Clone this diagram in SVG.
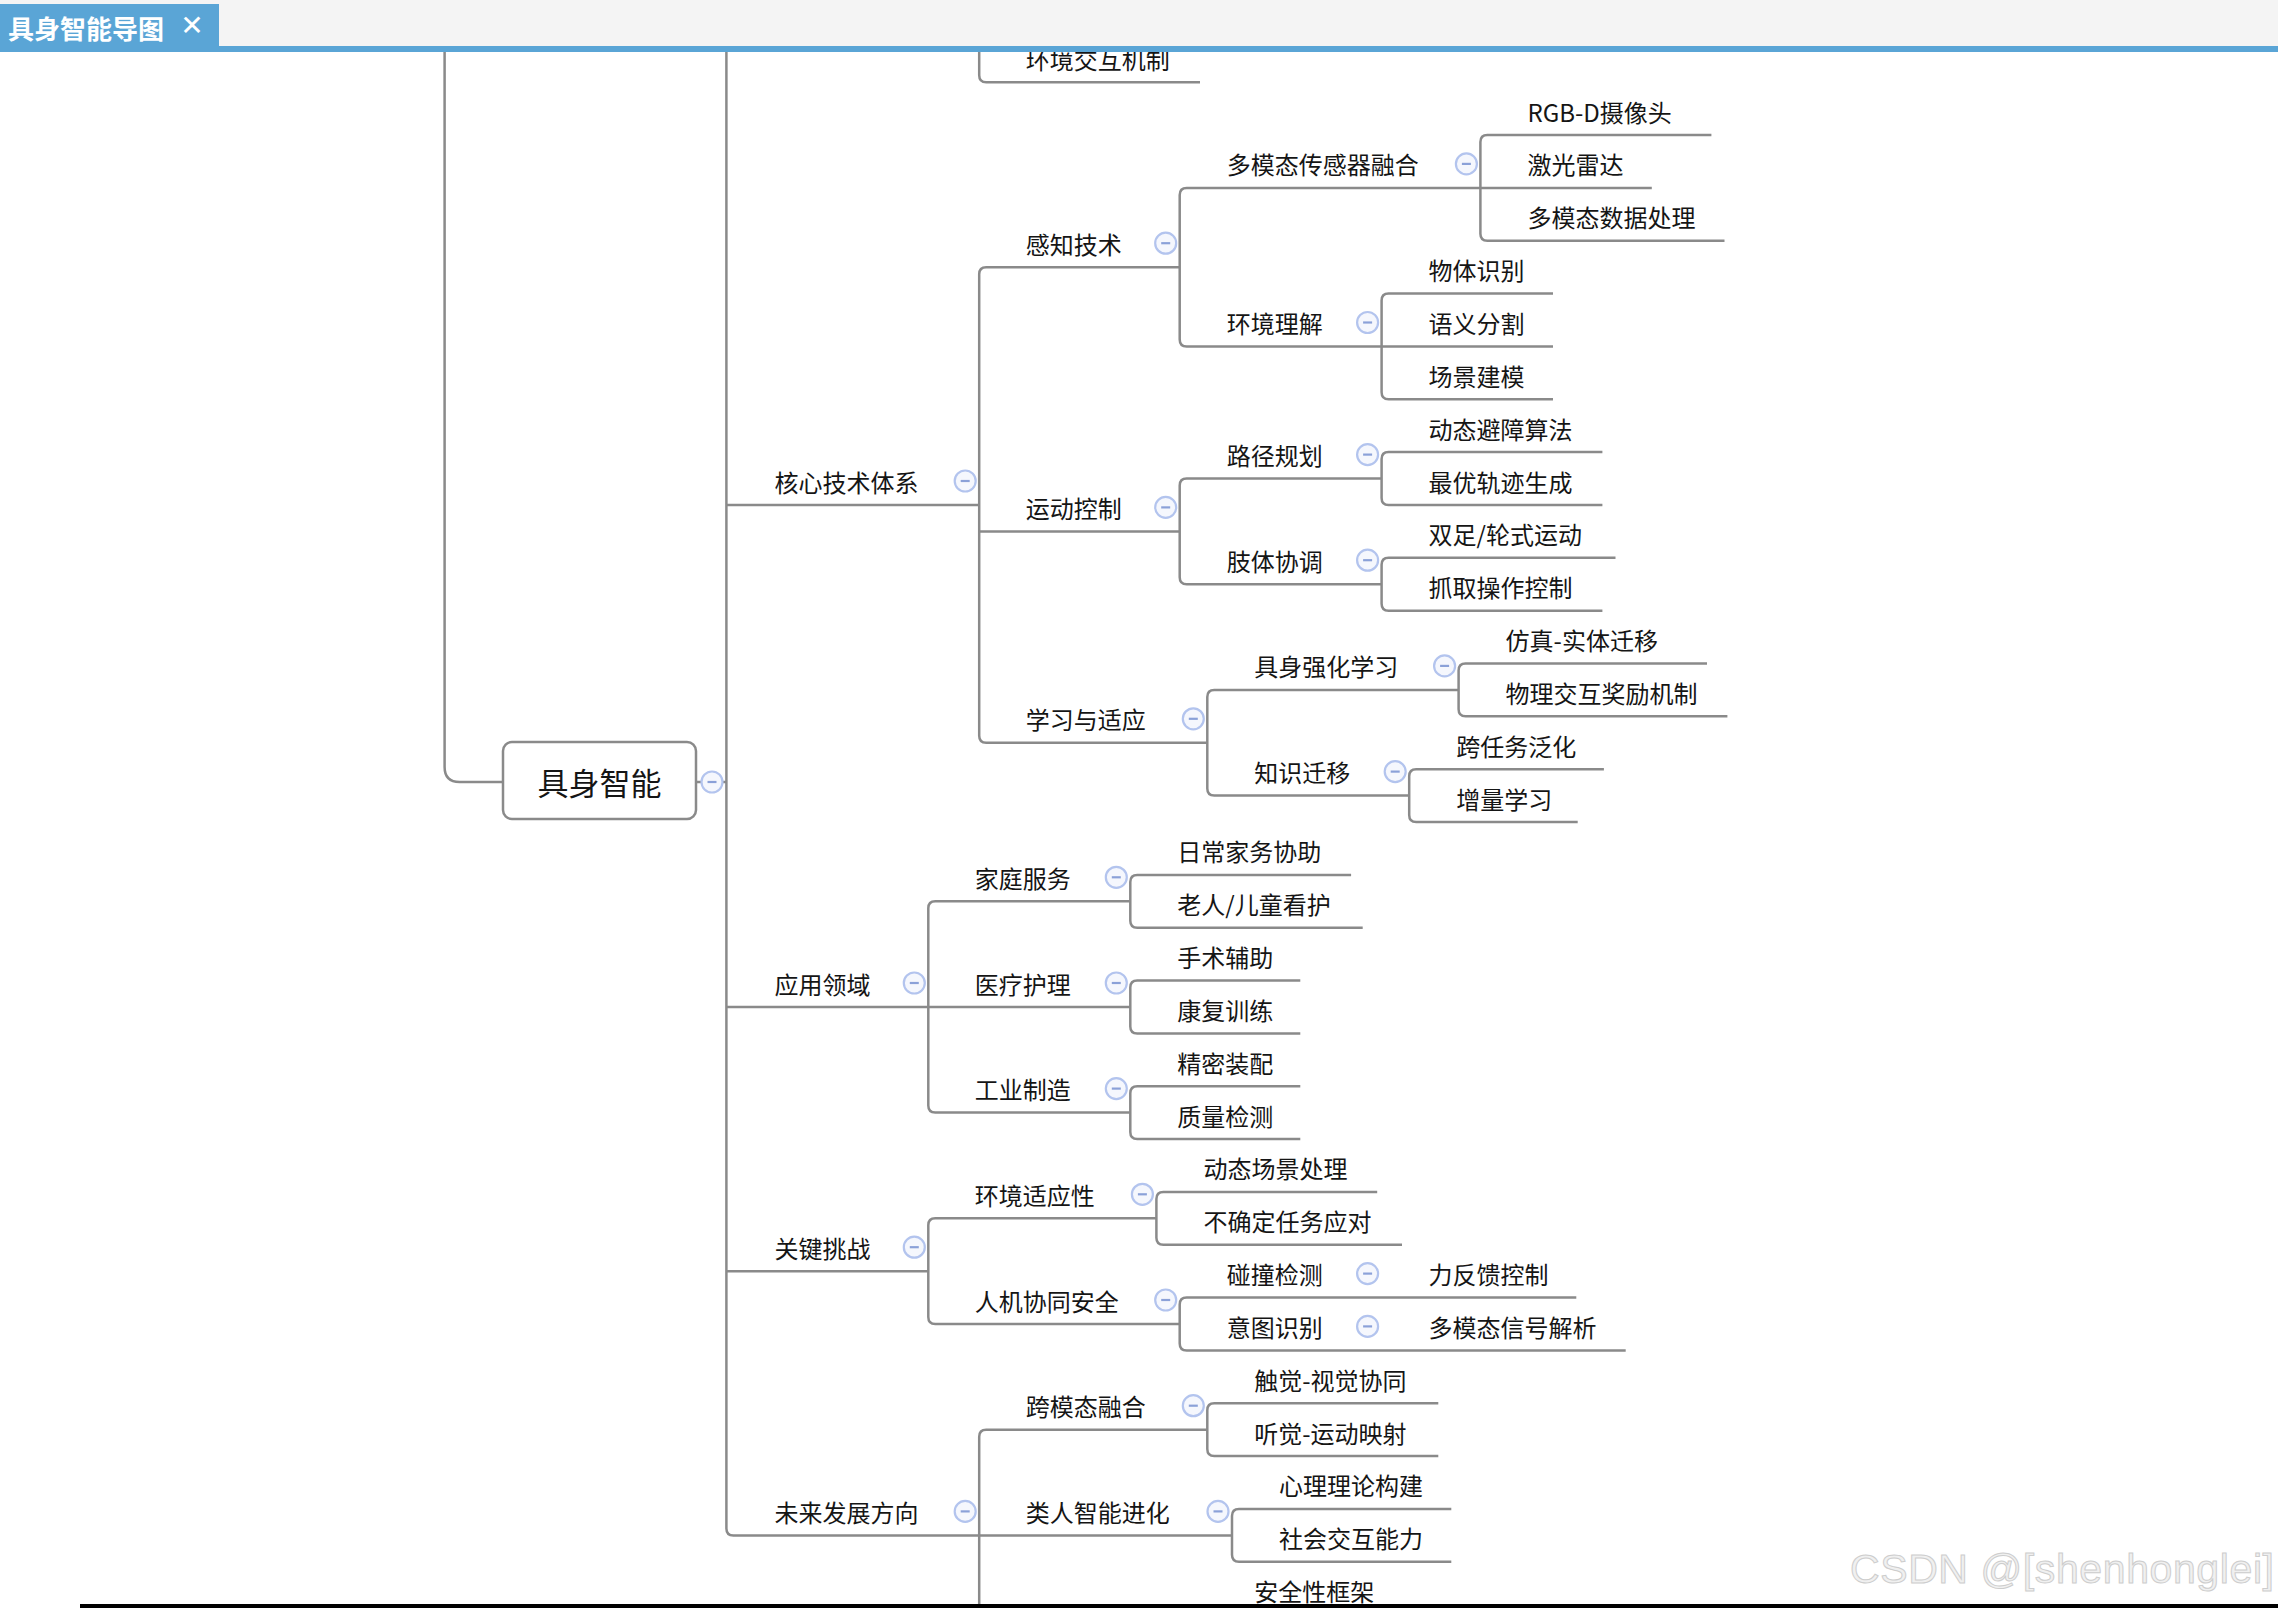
<svg xmlns="http://www.w3.org/2000/svg" width="2278" height="1608" viewBox="0 0 2278 1608">
<defs>
<style>
.t{font-family:"Noto Sans CJK SC","Noto Sans",sans-serif;font-size:24px;fill:#151515;dominant-baseline:central}
.root{font-size:31px;text-anchor:middle}
.ln{fill:none;stroke:#8a8a8a;stroke-width:2.5}
.bt circle{fill:#f5f7fd;stroke:#b3c4ee;stroke-width:2.2}
.bt line{stroke:#8ba1d8;stroke-width:2.2}
</style>
<g id="btn" class="bt"><circle cx="0" cy="0" r="10.5"/><line x1="-4.5" y1="0" x2="4.5" y2="0"/></g>
</defs>
<rect width="2278" height="1608" fill="#ffffff"/>
<g id="connectors" class="ln">
<path d="M503 782 H459.6 Q444.6 782 444.6 767 V52"/>
<path d="M696 782 H726.4"/>
<path d="M726.4 52 V1528.4 Q726.4 1535.4 733.4 1535.4 H979.2"/>
<path d="M726.4 505 H979.2"/>
<path d="M726.4 1007 H928.3"/>
<path d="M726.4 1271.2 H928.3"/>
<path d="M979.2 52 V75.3 Q979.2 82.3 986.2 82.3 H1200"/>
<path d="M1179.7 267.2 H986.2 Q979.2 267.2 979.2 274.2 V735.8 Q979.2 742.8 986.2 742.8 H1207.3"/>
<path d="M979.2 531.4 H1179.7"/>
<path d="M1480.4 187.9 H1186.7 Q1179.7 187.9 1179.7 194.9 V339.5 Q1179.7 346.5 1186.7 346.5 H1381.6"/>
<path d="M1711.4 135.1 H1487.4 Q1480.4 135.1 1480.4 142.1 V233.8 Q1480.4 240.8 1487.4 240.8 H1724.5"/>
<path d="M1480.4 187.9 H1651.8"/>
<path d="M1553 293.6 H1388.6 Q1381.6 293.6 1381.6 300.6 V392.3 Q1381.6 399.3 1388.6 399.3 H1553"/>
<path d="M1381.6 346.5 H1553"/>
<path d="M1381.6 478.6 H1186.7 Q1179.7 478.6 1179.7 485.6 V577.2 Q1179.7 584.2 1186.7 584.2 H1381.6"/>
<path d="M1602.4 452.1 H1388.6 Q1381.6 452.1 1381.6 459.1 V498 Q1381.6 505 1388.6 505 H1602.4"/>
<path d="M1615.5 557.8 H1388.6 Q1381.6 557.8 1381.6 564.8 V603.7 Q1381.6 610.7 1388.6 610.7 H1602.4"/>
<path d="M1458.6 689.9 H1214.3 Q1207.3 689.9 1207.3 696.9 V788.6 Q1207.3 795.6 1214.3 795.6 H1409.2"/>
<path d="M1707 663.5 H1465.6 Q1458.6 663.5 1458.6 670.5 V709.3 Q1458.6 716.3 1465.6 716.3 H1727.4"/>
<path d="M1603.9 769.2 H1416.2 Q1409.2 769.2 1409.2 776.2 V815 Q1409.2 822 1416.2 822 H1577.7"/>
<path d="M1130.3 901.3 H935.3 Q928.3 901.3 928.3 908.3 V1105.6 Q928.3 1112.6 935.3 1112.6 H1130.3"/>
<path d="M928.3 1007 H1130.3"/>
<path d="M1351.1 874.9 H1137.3 Q1130.3 874.9 1130.3 881.9 V920.7 Q1130.3 927.7 1137.3 927.7 H1362.7"/>
<path d="M1300.3 980.5 H1137.3 Q1130.3 980.5 1130.3 987.5 V1026.4 Q1130.3 1033.4 1137.3 1033.4 H1300.3"/>
<path d="M1300.3 1086.2 H1137.3 Q1130.3 1086.2 1130.3 1093.2 V1132.1 Q1130.3 1139.1 1137.3 1139.1 H1300.3"/>
<path d="M1156.4 1218.3 H935.3 Q928.3 1218.3 928.3 1225.3 V1317 Q928.3 1324 935.3 1324 H1179.7"/>
<path d="M1377.2 1191.9 H1163.4 Q1156.4 1191.9 1156.4 1198.9 V1237.7 Q1156.4 1244.7 1163.4 1244.7 H1402"/>
<path d="M1576.3 1297.6 H1186.7 Q1179.7 1297.6 1179.7 1304.6 V1343.4 Q1179.7 1350.4 1186.7 1350.4 H1625.7"/>
<path d="M1207.3 1429.7 H986.2 Q979.2 1429.7 979.2 1436.7 V1608"/>
<path d="M979.2 1535.4 H1232"/>
<path d="M1438.3 1403.3 H1214.3 Q1207.3 1403.3 1207.3 1410.3 V1449.1 Q1207.3 1456.1 1214.3 1456.1 H1438.3"/>
<path d="M1451.3 1508.9 H1239 Q1232 1508.9 1232 1515.9 V1554.8 Q1232 1561.8 1239 1561.8 H1451.3"/>
</g>
<g id="n-root"><rect x="503" y="742" width="193" height="77" rx="9" fill="#ffffff" stroke="#8a8a8a" stroke-width="2.5"/><text class="t root" x="599.5" y="781">具身智能</text><use href="#btn" x="712" y="782"/></g>
<g id="n-hxjs"><text class="t" x="774.4" y="481">核心技术体系</text><use href="#btn" x="965.2" y="481"/></g>
<g id="n-yyly"><text class="t" x="774.4" y="983">应用领域</text><use href="#btn" x="914.3" y="983"/></g>
<g id="n-gjtz"><text class="t" x="774.4" y="1247.2">关键挑战</text><use href="#btn" x="914.3" y="1247.2"/></g>
<g id="n-wlfz"><text class="t" x="774.4" y="1511.4">未来发展方向</text><use href="#btn" x="965.2" y="1511.4"/></g>
<g id="n-hjjh"><text class="t" x="1025.7" y="58.3">环境交互机制</text></g>
<g id="n-gzjs"><text class="t" x="1025.7" y="243.2">感知技术</text><use href="#btn" x="1165.7" y="243.2"/></g>
<g id="n-ydkz"><text class="t" x="1025.7" y="507.4">运动控制</text><use href="#btn" x="1165.7" y="507.4"/></g>
<g id="n-xxsy"><text class="t" x="1025.7" y="718.8">学习与适应</text><use href="#btn" x="1193.3" y="718.8"/></g>
<g id="n-dmtcgq"><text class="t" x="1226.7" y="163.9">多模态传感器融合</text><use href="#btn" x="1466.4" y="163.9"/></g>
<g id="n-rgbd"><text class="t" x="1527.4" y="111.1">RGB-D摄像头</text></g>
<g id="n-jgld"><text class="t" x="1527.4" y="163.9">激光雷达</text></g>
<g id="n-dmtsj"><text class="t" x="1527.4" y="216.8">多模态数据处理</text></g>
<g id="n-hjlj"><text class="t" x="1226.7" y="322.5">环境理解</text><use href="#btn" x="1367.6" y="322.5"/></g>
<g id="n-wtsb"><text class="t" x="1428.6" y="269.6">物体识别</text></g>
<g id="n-yyfg"><text class="t" x="1428.6" y="322.5">语义分割</text></g>
<g id="n-cjjm"><text class="t" x="1428.6" y="375.3">场景建模</text></g>
<g id="n-ljgh"><text class="t" x="1226.7" y="454.6">路径规划</text><use href="#btn" x="1367.6" y="454.6"/></g>
<g id="n-dtbz"><text class="t" x="1428.6" y="428.1">动态避障算法</text></g>
<g id="n-zygj"><text class="t" x="1428.6" y="481">最优轨迹生成</text></g>
<g id="n-ztxt"><text class="t" x="1226.7" y="560.2">肢体协调</text><use href="#btn" x="1367.6" y="560.2"/></g>
<g id="n-szlsyd"><text class="t" x="1428.6" y="533.8">双足/轮式运动</text></g>
<g id="n-zqcz"><text class="t" x="1428.6" y="586.7">抓取操作控制</text></g>
<g id="n-jsqh"><text class="t" x="1254.3" y="665.9">具身强化学习</text><use href="#btn" x="1444.6" y="665.9"/></g>
<g id="n-fzst"><text class="t" x="1505.6" y="639.5">仿真-实体迁移</text></g>
<g id="n-wljh"><text class="t" x="1505.6" y="692.3">物理交互奖励机制</text></g>
<g id="n-zsqy"><text class="t" x="1254.3" y="771.6">知识迁移</text><use href="#btn" x="1395.2" y="771.6"/></g>
<g id="n-krwfh"><text class="t" x="1456.2" y="745.2">跨任务泛化</text></g>
<g id="n-zlxx"><text class="t" x="1456.2" y="798">增量学习</text></g>
<g id="n-jtfw"><text class="t" x="974.8" y="877.3">家庭服务</text><use href="#btn" x="1116.3" y="877.3"/></g>
<g id="n-rcjw"><text class="t" x="1177.3" y="850.9">日常家务协助</text></g>
<g id="n-lrkh"><text class="t" x="1177.3" y="903.7">老人/儿童看护</text></g>
<g id="n-ylhl"><text class="t" x="974.8" y="983">医疗护理</text><use href="#btn" x="1116.3" y="983"/></g>
<g id="n-ssfz"><text class="t" x="1177.3" y="956.5">手术辅助</text></g>
<g id="n-kfxl"><text class="t" x="1177.3" y="1009.4">康复训练</text></g>
<g id="n-gyzz"><text class="t" x="974.8" y="1088.6">工业制造</text><use href="#btn" x="1116.3" y="1088.6"/></g>
<g id="n-jmzp"><text class="t" x="1177.3" y="1062.2">精密装配</text></g>
<g id="n-zljc"><text class="t" x="1177.3" y="1115.1">质量检测</text></g>
<g id="n-hjsyx"><text class="t" x="974.8" y="1194.3">环境适应性</text><use href="#btn" x="1142.4" y="1194.3"/></g>
<g id="n-dtcj"><text class="t" x="1203.4" y="1167.9">动态场景处理</text></g>
<g id="n-bqdrw"><text class="t" x="1203.4" y="1220.7">不确定任务应对</text></g>
<g id="n-rjxt"><text class="t" x="974.8" y="1300">人机协同安全</text><use href="#btn" x="1165.7" y="1300"/></g>
<g id="n-pzjc"><text class="t" x="1226.7" y="1273.6">碰撞检测</text><use href="#btn" x="1367.6" y="1273.6"/></g>
<g id="n-lfkkz"><text class="t" x="1428.6" y="1273.6">力反馈控制</text></g>
<g id="n-ytsb"><text class="t" x="1226.7" y="1326.4">意图识别</text><use href="#btn" x="1367.6" y="1326.4"/></g>
<g id="n-dmtxh"><text class="t" x="1428.6" y="1326.4">多模态信号解析</text></g>
<g id="n-kmtrh"><text class="t" x="1025.7" y="1405.7">跨模态融合</text><use href="#btn" x="1193.3" y="1405.7"/></g>
<g id="n-cjsj"><text class="t" x="1254.3" y="1379.3">触觉-视觉协同</text></g>
<g id="n-tjyd"><text class="t" x="1254.3" y="1432.1">听觉-运动映射</text></g>
<g id="n-lrzn"><text class="t" x="1025.7" y="1511.4">类人智能进化</text><use href="#btn" x="1218" y="1511.4"/></g>
<g id="n-xlll"><text class="t" x="1279" y="1484.9">心理理论构建</text></g>
<g id="n-shjh"><text class="t" x="1279" y="1537.8">社会交互能力</text></g>
<g id="n-aqxkj"><text class="t" x="1254.3" y="1590.6">安全性框架</text></g>
<g id="watermark"><text x="1850" y="1583" font-family="Liberation Sans, Arial, sans-serif" font-size="41" textLength="424" lengthAdjust="spacing" fill="#f0f0f0" stroke="#cdcdcd" stroke-width="1">CSDN @[shenhonglei]</text></g>
<g id="bottom-frame"><rect x="80" y="1604" width="2198" height="4" fill="#000000"/></g>
<g id="tabbar">
<rect x="0" y="0" width="2278" height="46" fill="#f4f4f4"/>
<rect x="0" y="4" width="219" height="42" fill="#5aa5d6"/>
<rect x="0" y="46" width="2278" height="6" fill="#5aa5d6"/>
<text x="8" y="27" font-family="Noto Sans CJK SC, sans-serif" font-size="26" font-weight="bold" fill="#ffffff" dominant-baseline="central">具身智能导图</text>
<text x="192" y="25" font-family="DejaVu Sans, sans-serif" font-size="28" fill="#ffffff" text-anchor="middle" dominant-baseline="central">✕</text>
</g>
</svg>
